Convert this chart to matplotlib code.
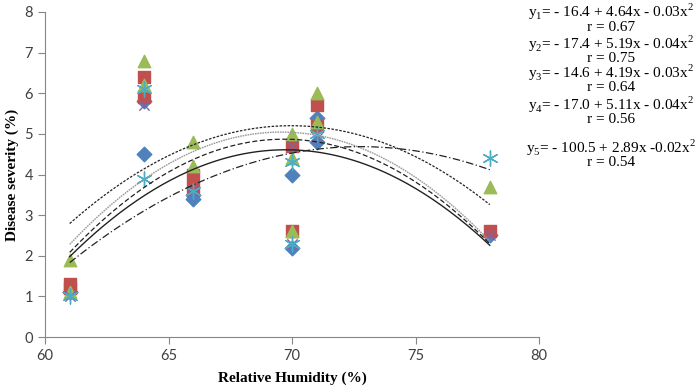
import matplotlib
matplotlib.use("Agg")
import matplotlib.pyplot as plt
import numpy as np

# humidity levels where the severity was measured
x_s1 = [61, 61, 64, 64, 66, 66, 70, 70, 71, 71, 78]
y_s1 = [1.1, 1.1, 5.8, 4.5, 3.5, 3.4, 4.0, 2.2, 5.4, 4.8, 2.5]
x_s2 = [61, 61, 64, 64, 66, 66, 70, 70, 71, 71, 78]
y_s2 = [1.3, 1.2, 6.4, 5.9, 4.0, 3.7, 4.7, 2.6, 5.7, 5.2, 2.6]
x_s3 = [61, 61, 64, 64, 66, 66, 70, 70, 70, 71, 71, 78]
y_s3 = [1.9, 1.1, 6.8, 6.2, 4.8, 4.2, 5.0, 4.4, 2.6, 6.0, 5.3, 3.7]
x_s4 = [61, 64, 66, 70, 70, 71, 78]
y_s4 = [1.0, 5.7, 3.6, 4.7, 2.3, 4.9, 2.5]
x_s5 = [61, 64, 64, 66, 70, 70, 71, 78]
y_s5 = [1.0, 6.1, 3.9, 3.6, 4.3, 2.3, 5.0, 4.4]

# trend curves at a few humidity values
curve_x = [61, 66, 70, 74.5, 78]
curve_dotted = [2.8, 4.72, 5.2, 4.6, 3.25]
curve_gray = [2.3, 4.55, 4.97, 4.25, 2.3]
curve_dashed = [2.1, 4.35, 4.82, 4.1, 2.25]
curve_solid = [2.0, 4.1, 4.55, 3.95, 2.2]
curve_dashdot = [1.85, 3.7, 4.55, 4.65, 4.1]

equations = [
    ("y$_1$= - 16.4 + 4.64x - 0.03x$^2$", "r = 0.67"),
    ("y$_2$= - 17.4 + 5.19x - 0.04x$^2$", "r = 0.75"),
    ("y$_3$= - 14.6 + 4.19x - 0.03x$^2$", "r = 0.64"),
    ("y$_4$= - 17.0 + 5.11x - 0.04x$^2$", "r = 0.56"),
    ("y$_5$= - 100.5 + 2.89x -0.02x$^2$", "r = 0.54"),
]

plt.rcParams["mathtext.fontset"] = "custom"
plt.rcParams["mathtext.rm"] = "Liberation Serif"

fig = plt.figure(figsize=(7, 3.87), dpi=100)
ax = fig.add_axes([0.0643, 0.129, 0.706, 0.84])

ax.scatter(x_s1, y_s1, marker="D", s=55, color="#4F81BD", zorder=3)
ax.scatter(x_s2, y_s2, marker="s", s=75, color="#C0504D", zorder=3)
ax.scatter(x_s3, y_s3, marker="^", s=80, color="#9BBB59", zorder=3)
ax.scatter(x_s4, y_s4, marker="x", s=55, color="#8064A2", linewidths=1, zorder=3)
ax.scatter(x_s5, y_s5, marker=(6, 2, 0), s=120, color="#4BACC6", linewidths=1, zorder=3)

xs = np.linspace(61, 78, 200)
styles = [
    (curve_dotted, "#222222", (0, (2, 1.2)), 0.9),
    (curve_gray, "#9a9a9a", (0, (1.2, 0.6)), 1.0),
    (curve_dashed, "#222222", (0, (4, 2)), 0.9),
    (curve_solid, "#222222", "-", 1.0),
    (curve_dashdot, "#222222", (0, (6, 2, 1, 2)), 0.9),
]
for ys, col, ls, lw in styles:
    coef = np.polyfit(curve_x, ys, 2)
    ax.plot(xs, np.polyval(coef, xs), color=col, linestyle=ls, linewidth=lw, zorder=4)

ax.set_xlim(60, 80)
ax.set_ylim(0, 8)
ax.set_xticks([60, 65, 70, 75, 80])
ax.set_yticks(range(0, 9))
for side in ["top", "right"]:
    ax.spines[side].set_visible(False)
for side in ["left", "bottom"]:
    ax.spines[side].set_color("#868686")
ax.tick_params(direction="out", length=5, color="#868686", labelsize=10.5, labelcolor="#404040")
for lab in ax.get_xticklabels() + ax.get_yticklabels():
    lab.set_family("Lato")

ax.set_xlabel("Relative Humidity (%)", fontfamily="Liberation Serif", fontweight="bold",
              fontsize=11, labelpad=6)
ax.set_ylabel("Disease severity (%)", fontfamily="Liberation Serif", fontweight="bold", fontsize=11)

eq_pos = [(0.969, 0.928), (0.886, 0.850), (0.811, 0.773), (0.729, 0.690), (0.618, 0.579)]
for (eq, r), (y_eq, y_r) in zip(equations, eq_pos):
    fig.text(0.873, y_eq, eq, ha="center", va="center", fontsize=11, fontfamily="Liberation Serif")
    fig.text(0.873, y_r, r, ha="center", va="center", fontsize=11, fontfamily="Liberation Serif")

fig.savefig("out.png", dpi=100)
